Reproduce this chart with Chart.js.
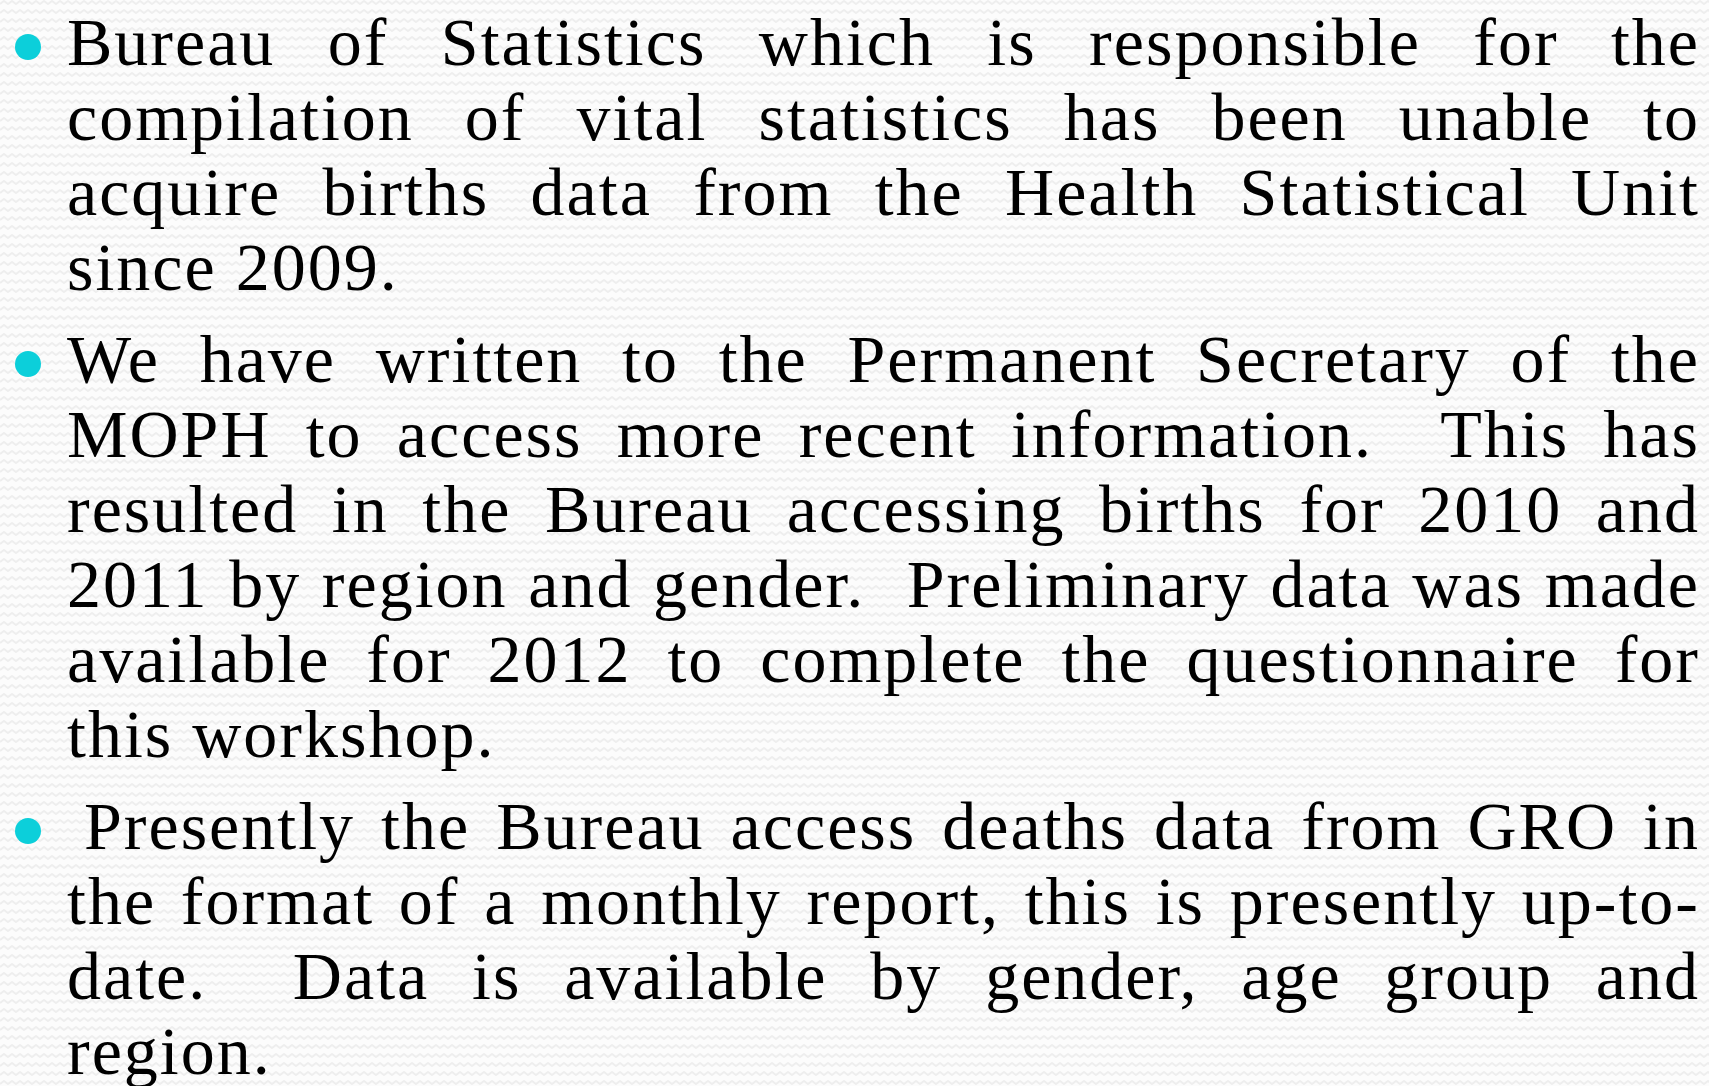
<!DOCTYPE html>
<html>
<head>
<meta charset="utf-8">
<script src="https://cdn.jsdelivr.net/npm/chart.js"></script>
<style>
    html, body {
        margin: 0;
        padding: 0;
        width: 1709px;
        height: 1086px;
        overflow: hidden;
        background: #f7f7f7;
    }
    #bg {
        position: absolute;
        left: 0;
        top: 0;
    }
    .slide {
        position: absolute;
        left: 67px;
        top: 5px;
        width: 1633px;
        font-family: "Liberation Serif", "DejaVu Serif", serif;
        font-size: 68px;
        line-height: 75px;
        letter-spacing: 2px;
        color: #000;
    }
    .para {
        position: relative;
        margin-bottom: 17px;
    }
    .para .dot {
        position: absolute;
        left: -52px;
        top: 29px;
        width: 26px;
        height: 26px;
        border-radius: 50%;
        background: #0ccfda;
    }
    .line {
        white-space: nowrap;
        text-align: justify;
        text-align-last: justify;
    }
    .line.last {
        text-align-last: left;
    }
</style>
</head>
<body>
<canvas id="bg" width="1709" height="1086"></canvas>
<div class="slide"></div>

<script>
// slide text, line by line as in the picture
let para_one = [
    "Bureau of Statistics which is responsible for the",
    "compilation of vital statistics has been unable to",
    "acquire births data from the Health Statistical Unit",
    "since 2009."
]

let para_two = [
    "We have written to the Permanent Secretary of the",
    "MOPH to access more recent information.  This has",
    "resulted in the Bureau accessing births for 2010 and",
    "2011 by region and gender.  Preliminary data was made",
    "available for 2012 to complete the questionnaire for",
    "this workshop."
]

let para_three = [
    " Presently the Bureau access deaths data from GRO in",
    "the format of a monthly report, this is presently up-to-",
    "date.  Data is available by gender, age group and",
    "region."
]

let slide = document.querySelector(".slide")

for (let lines of [para_one, para_two, para_three]) {
    let para = document.createElement("div")
    para.className = "para"

    let dot = document.createElement("span")
    dot.className = "dot"
    para.append(dot)

    lines.forEach((text, i) => {
        let line = document.createElement("div")
        line.className = i == lines.length - 1 ? "line last" : "line"
        if (text.startsWith(" ")) {
            line.style.paddingLeft = "17px"
            text = text.trim()
        }
        // keep the double spaces after full stops
        line.innerHTML = text.replace(/  /g, "&nbsp; ")
        para.append(line)
    })

    slide.append(para)
}

// wavy paper texture behind the text
const paperTexture = {
    id: "paperTexture",
    beforeDraw(chart) {
        const { ctx, width, height } = chart
        ctx.save()
        ctx.fillStyle = "#fcfcfc"
        ctx.fillRect(0, 0, width, height)
        ctx.strokeStyle = "#eeeeee"
        ctx.lineWidth = 2
        for (let y = 4; y < height + 10; y += 9) {
            ctx.beginPath()
            ctx.moveTo(0, y)
            for (let x = 0; x < width + 8; x += 4) {
                ctx.lineTo(x, (x / 4) % 2 ? y - 3 : y)
            }
            ctx.stroke()
        }
        ctx.restore()
    }
}

const bg_ctx = document.getElementById("bg").getContext("2d")

new Chart(bg_ctx, {
    type: "scatter",
    data: {
        datasets: []
    },
    options: {
        responsive: false,
        animation: false,
        events: [],
        plugins: {
            legend: { display: false },
            tooltip: { enabled: false }
        },
        scales: {
            x: { display: false },
            y: { display: false }
        }
    },
    plugins: [paperTexture]
})
</script>
</body>
</html>
